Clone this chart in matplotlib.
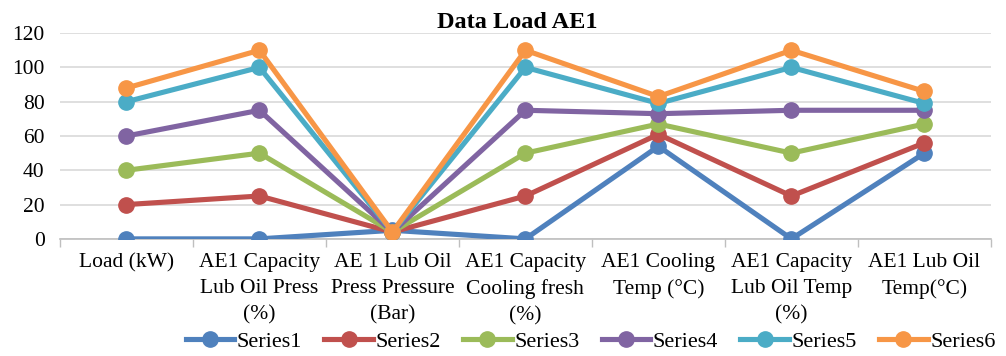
import matplotlib.pyplot as plt
import numpy as np

plt.rcParams['font.family'] = ['Liberation Serif', 'DejaVu Serif']

categories = ["Load (kW)", "AE1 Capacity\nLub Oil Press\n(%)", "AE 1 Lub Oil\nPress Pressure\n(Bar)",
              "AE1 Capacity\nCooling fresh\n(%)", "AE1 Cooling\nTemp (°C)", "AE1 Capacity\nLub Oil Temp\n(%)",
              "AE1 Lub Oil\nTemp(°C)"]
series1 = [0, 0, 5, 0, 54, 0, 50]
series2 = [20, 25, 4, 25, 61, 25, 56]
series3 = [40, 50, 4, 50, 67, 50, 67]
series4 = [60, 75, 4, 75, 73, 75, 75]
series5 = [80, 100, 4, 100, 79, 100, 79]
series6 = [88, 110, 4, 110, 83, 110, 86]

names = ["Series1", "Series2", "Series3", "Series4", "Series5", "Series6"]
colors = ["#4F81BD", "#C0504D", "#9BBB59", "#8064A2", "#4BACC6", "#F79646"]

fig = plt.figure(figsize=(10.06, 3.56), dpi=100)
ax = fig.add_axes([0.0596, 0.329, 0.9254, 0.578])

x = np.arange(len(categories))
for vals, name, c in zip([series1, series2, series3, series4, series5, series6], names, colors):
    ax.plot(x, vals, color=c, lw=3.7, marker='o', markersize=11, label=name, zorder=3)

ax.set_ylim(0, 120)
ax.set_yticks(range(0, 121, 20))
ax.set_xlim(-0.5, len(categories) - 0.5)
ax.set_xticks(np.arange(-0.5, len(categories), 1))
ax.set_xticklabels([])
ax.set_xticks(x, minor=True)
ax.set_xticklabels(categories, minor=True, fontsize=15.5, linespacing=1.5)
ax.tick_params(axis='x', which='major', length=6, color='#BFBFBF', width=1)
ax.tick_params(axis='x', which='minor', length=0, pad=10)
ax.tick_params(axis='y', length=0, labelsize=15.5, pad=11)
ax.grid(axis='y', color='#D9D9D9', lw=1.2, zorder=0)
for s in ['left', 'right', 'top']:
    ax.spines[s].set_visible(False)
ax.spines['bottom'].set_color('#BFBFBF')
ax.spines['bottom'].set_linewidth(1.2)

ax.set_title('Data Load AE1', fontsize=17.5, fontweight='bold', pad=2, x=0.491)

fig.legend(loc='lower center', ncol=6, bbox_to_anchor=(0.587, -0.045), frameon=False,
           fontsize=16, handlelength=2.2, columnspacing=1.0, handletextpad=0.1)

fig.savefig('out.png')
